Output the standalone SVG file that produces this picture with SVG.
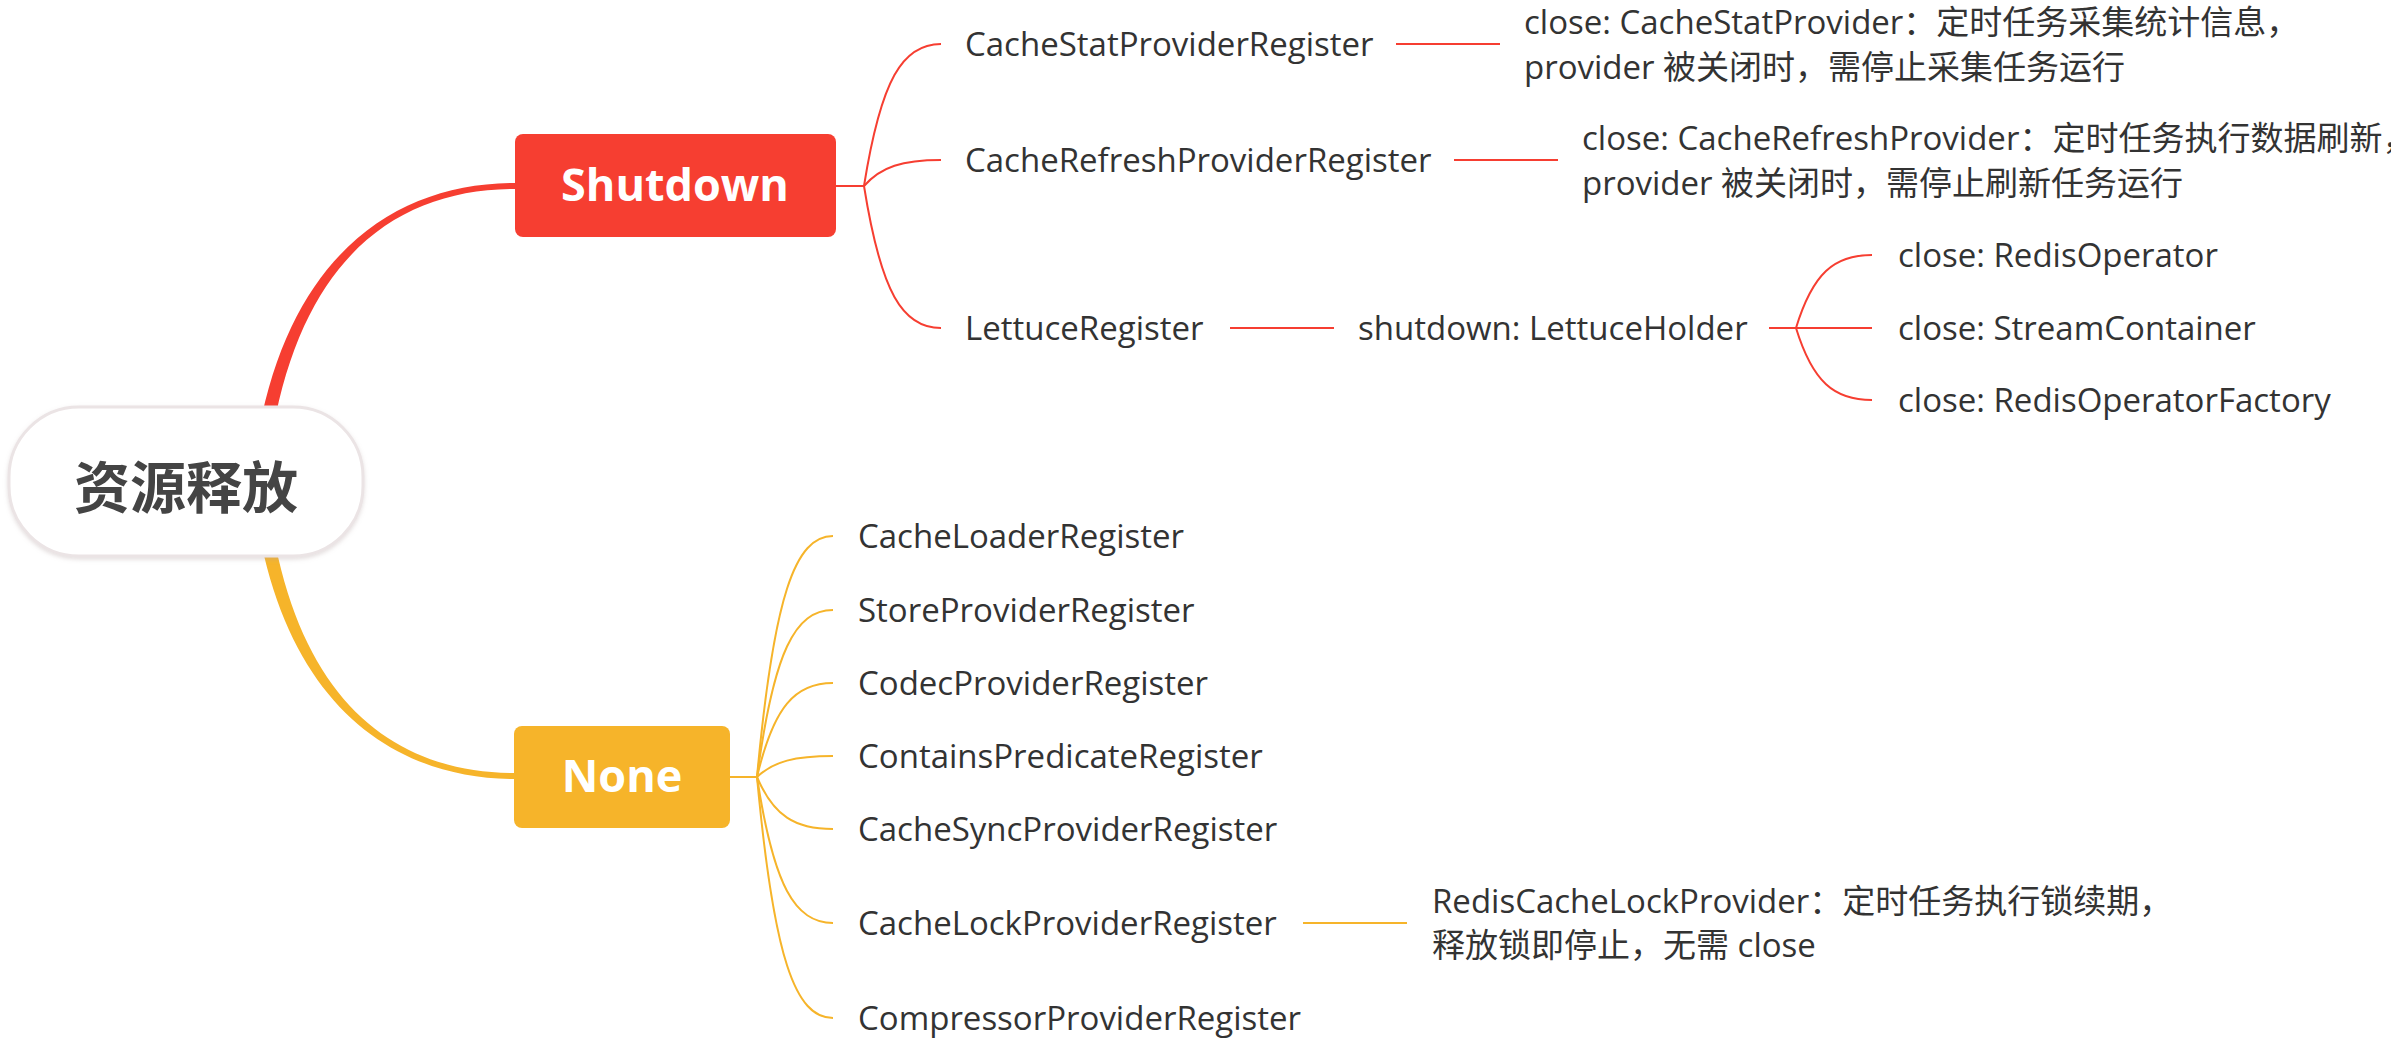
<svg xmlns="http://www.w3.org/2000/svg" width="2391" height="1044" viewBox="0 0 2391 1044">
<style>
.t{font-family:"Open Sans","Noto Sans CJK SC",sans-serif;font-size:33px;fill:#333;}
.b{font-family:"Open Sans","Noto Sans CJK SC",sans-serif;font-size:45px;font-weight:700;fill:#fff;}
.r{fill:none;stroke:#F63E31;stroke-width:2;}
.y{fill:none;stroke:#F6B42A;stroke-width:2;}
</style>
<defs>
<filter id="sh" x="-10%" y="-10%" width="120%" height="130%">
<feDropShadow dx="0" dy="2" stdDeviation="2" flood-color="#b0a0a0" flood-opacity="0.35"/>
</filter>
</defs>
<rect width="2391" height="1044" fill="#fff"/>
<g id="connectors">
<path d="M259,430 C293,250 400,183 515,183 L515,189 C402,189 305,252 273,430 Z" fill="#F63E31"/>
<path d="M259,532 C293,712 400,779 515,779 L515,773 C402,773 305,710 273,532 Z" fill="#F6B42A"/>
<path class="r" d="M836,186 H864"/>
<path class="r" d="M864,186 C881,79.5 902.5,44 941,44"/>
<path class="r" d="M864,186 C881,166.5 902.5,160 941,160"/>
<path class="r" d="M864,186 C881,292.5 902.5,328 941,328"/>
<path class="r" d="M1396,44 H1500"/>
<path class="r" d="M1454,160 H1558"/>
<path class="r" d="M1230,328 H1334"/>
<path class="r" d="M1769,328 H1796"/>
<path class="r" d="M1796,328 C1812.7,273.25 1834,255 1872,255"/>
<path class="r" d="M1796,328 H1872"/>
<path class="r" d="M1796,328 C1812.7,382 1834,400 1872,400"/>
<path class="y" d="M730,777 H757"/>
<path class="y" d="M757,777 C773.7,596.25 795,536 833,536"/>
<path class="y" d="M757,777 C773.7,651.75 795,610 833,610"/>
<path class="y" d="M757,777 C773.7,706.5 795,683 833,683"/>
<path class="y" d="M757,777 C773.7,761.25 795,756 833,756"/>
<path class="y" d="M757,777 C773.7,816 795,829 833,829"/>
<path class="y" d="M757,777 C773.7,886.5 795,923 833,923"/>
<path class="y" d="M757,777 C773.7,957.75 795,1018 833,1018"/>
<path class="y" d="M1303,923 H1407"/>
</g>
<g id="root">
<rect x="9" y="407" width="354" height="149" rx="70" ry="70" fill="#fff" stroke="#ebe4e5" stroke-width="3" filter="url(#sh)"/>
<text x="186" y="483" text-anchor="middle" dominant-baseline="central" font-family="'Noto Sans CJK SC',sans-serif" font-size="56" font-weight="700" fill="#444">资源释放</text>
</g>
<g id="shutdown">
<rect x="515" y="134" width="321" height="103" rx="8" fill="#F63E31"/>
<text class="b" x="675" y="201" text-anchor="middle">Shutdown</text>
</g>
<g id="none">
<rect x="514" y="726" width="216" height="102" rx="8" fill="#F6B42A"/>
<text class="b" x="622" y="792" text-anchor="middle">None</text>
</g>
<g id="cacheStatProviderRegister"><text class="t" x="965" y="56">CacheStatProviderRegister</text></g>
<g id="cacheStatDesc"><text class="t" x="1524" y="34">close: CacheStatProvider：定时任务采集统计信息，</text><text class="t" x="1524" y="79">provider 被关闭时，需停止采集任务运行</text></g>
<g id="cacheRefreshProviderRegister"><text class="t" x="965" y="172">CacheRefreshProviderRegister</text></g>
<g id="cacheRefreshDesc"><text class="t" x="1582" y="150">close: CacheRefreshProvider：定时任务执行数据刷新，</text><text class="t" x="1582" y="195">provider 被关闭时，需停止刷新任务运行</text></g>
<g id="lettuceRegister"><text class="t" x="965" y="340">LettuceRegister</text></g>
<g id="lettuceHolder"><text class="t" x="1358" y="340">shutdown: LettuceHolder</text></g>
<g id="redisOperator"><text class="t" x="1898" y="267">close: RedisOperator</text></g>
<g id="streamContainer"><text class="t" x="1898" y="340">close: StreamContainer</text></g>
<g id="redisOperatorFactory"><text class="t" x="1898" y="412">close: RedisOperatorFactory</text></g>
<g id="cacheLoaderRegister"><text class="t" x="858" y="548">CacheLoaderRegister</text></g>
<g id="storeProviderRegister"><text class="t" x="858" y="622">StoreProviderRegister</text></g>
<g id="codecProviderRegister"><text class="t" x="858" y="695">CodecProviderRegister</text></g>
<g id="containsPredicateRegister"><text class="t" x="858" y="768">ContainsPredicateRegister</text></g>
<g id="cacheSyncProviderRegister"><text class="t" x="858" y="841">CacheSyncProviderRegister</text></g>
<g id="cacheLockProviderRegister"><text class="t" x="858" y="935">CacheLockProviderRegister</text></g>
<g id="cacheLockDesc"><text class="t" x="1432" y="913">RedisCacheLockProvider：定时任务执行锁续期，</text><text class="t" x="1432" y="957">释放锁即停止，无需 close</text></g>
<g id="compressorProviderRegister"><text class="t" x="858" y="1030">CompressorProviderRegister</text></g>
</svg>
